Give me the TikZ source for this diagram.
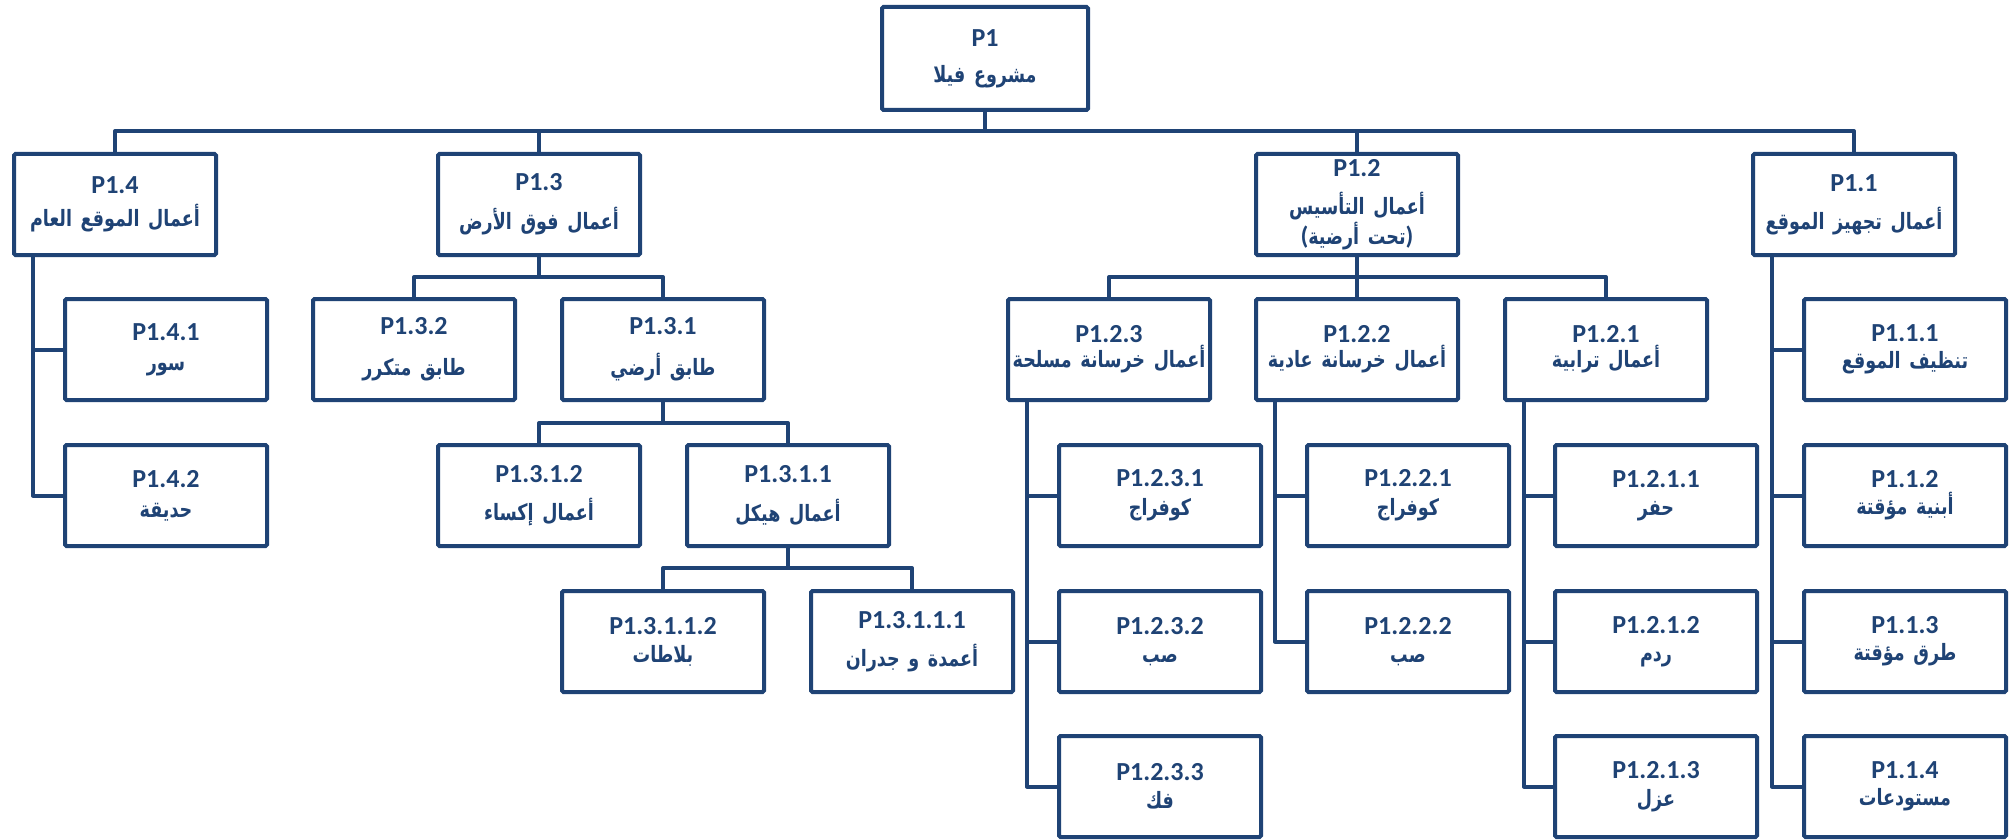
\documentclass[tikz,border=0pt]{standalone}
\usepackage{fontspec}
\setmainfont{Carlito}
\newfontfamily\arabicfont[Script=Arabic, FakeStretch=0.78]{DejaVu Sans}
\TeXXeTstate=1
\definecolor{wbs}{RGB}{31,67,117}
\newcommand{\ar}[1]{\makebox[198pt][c]{\arabicfont\bfseries\fontsize{22.5}{30}\selectfont\beginR #1\endR}}
\newcommand{\arp}[1]{\makebox[198pt][c]{{\bfseries\fontsize{25}{30}\selectfont(}{\arabicfont\bfseries\fontsize{22.5}{30}\selectfont\beginR #1\endR}{\bfseries\fontsize{25}{30}\selectfont)}}}
\newcommand{\pl}[1]{{\bfseries\fontsize{26}{30}\selectfont #1}}
\begin{document}
\begin{tikzpicture}[x=1pt,y=-1pt,
  wbox/.style={draw=wbs, line width=4pt, rounded corners=1.5pt, fill=white,
    minimum width=202pt, minimum height=101pt, text width=198pt, text=wbs, align=center,
    inner xsep=2pt, inner ysep=0pt, font=\fontsize{26}{30}\selectfont},
  link/.style={draw=wbs, line width=4pt, line join=round}]
\useasboundingbox (0,0) rectangle (2014,840);

% level 0
\node[wbox, minimum width=206pt, minimum height=103pt] (P1) at (985,58.5) {\pl{P1}\\[6pt]\ar{مشروع فيلا}};

% level 1
\node[wbox] (P14) at (115,204.5) {\pl{P1.4}\\[3pt]\ar{أعمال الموقع العام}};
\node[wbox] (P13) at (539,204.5) {\pl{P1.3}\\[9pt]\ar{أعمال فوق الأرض}};
\node[wbox] (P12) at (1357,204.5) {\pl{P1.2}\\[8pt]\ar{أعمال التأسيس}\\\arp{تحت أرضية}};
\node[wbox] (P11) at (1854,204.5) {\pl{P1.1}\\[8pt]\ar{أعمال تجهيز الموقع}};

% P1.4 branch
\node[wbox] (P141) at (166,349.5) {\pl{P1.4.1}\\[0pt]\ar{سور}};
\node[wbox] (P142) at (166,495.5) {\pl{P1.4.2}\\[0pt]\ar{حديقة}};

% P1.3 branch
\node[wbox] (P132) at (414,349.5) {\pl{P1.3.2}\\[11pt]\ar{طابق متكرر}};
\node[wbox] (P131) at (663,349.5) {\pl{P1.3.1}\\[11pt]\ar{طابق أرضي}};
\node[wbox] (P1312) at (539,495.5) {\pl{P1.3.1.2}\\[8pt]\ar{أعمال إكساء}};
\node[wbox] (P1311) at (788,495.5) {\pl{P1.3.1.1}\\[9pt]\ar{أعمال هيكل}};
\node[wbox] (P13112) at (663,641.5) {\pl{P1.3.1.1.2}\\[-2pt]\ar{بلاطات}};
\node[wbox] (P13111) at (912,641.5) {\pl{P1.3.1.1.1}\\[8pt]\ar{أعمدة و جدران}};

% P1.2 branch
\node[wbox] (P123) at (1109,349.5) {\pl{P1.2.3}\\[-5pt]\ar{أعمال خرسانة مسلحة}};
\node[wbox] (P122) at (1357,349.5) {\pl{P1.2.2}\\[-5pt]\ar{أعمال خرسانة عادية}};
\node[wbox] (P121) at (1606,349.5) {\pl{P1.2.1}\\[-5pt]\ar{أعمال ترابية}};
\node[wbox] (P1231) at (1160,495.5) {\pl{P1.2.3.1}\\[-1pt]\ar{كوفراج}};
\node[wbox] (P1232) at (1160,641.5) {\pl{P1.2.3.2}\\[-2pt]\ar{صب}};
\node[wbox] (P1233) at (1160,786.5) {\pl{P1.2.3.3}\\[-2pt]\ar{فك}};
\node[wbox] (P1221) at (1408,495.5) {\pl{P1.2.2.1}\\[-1pt]\ar{كوفراج}};
\node[wbox] (P1222) at (1408,641.5) {\pl{P1.2.2.2}\\[-2pt]\ar{صب}};
\node[wbox] (P1211) at (1656,495.5) {\pl{P1.2.1.1}\\[-2pt]\ar{حفر}};
\node[wbox] (P1212) at (1656,641.5) {\pl{P1.2.1.2}\\[-2pt]\ar{ردم}};
\node[wbox] (P1213) at (1656,786.5) {\pl{P1.2.1.3}\\[-2pt]\ar{عزل}};

% P1.1 branch
\node[wbox] (P111) at (1905,349.5) {\pl{P1.1.1}\\[-3pt]\ar{تنظيف الموقع}};
\node[wbox] (P112) at (1905,495.5) {\pl{P1.1.2}\\[-3pt]\ar{أبنية مؤقتة}};
\node[wbox] (P113) at (1905,641.5) {\pl{P1.1.3}\\[-3pt]\ar{طرق مؤقتة}};
\node[wbox] (P114) at (1905,786.5) {\pl{P1.1.4}\\[-3pt]\ar{مستودعات}};

% bus levels
\coordinate (bus0) at (0,131);
\coordinate (bus1) at (0,277);
\coordinate (bus2) at (0,423);
\coordinate (bus3) at (0,568);

% level 0 -> 1
\draw[link] (P1.south) -- (P1.south |- bus0);
\draw[link] (P14.north) -- (P14.north |- bus0) -- (P11.north |- bus0) -- (P11.north);
\draw[link] (P13.north) -- (P13.north |- bus0);
\draw[link] (P12.north) -- (P12.north |- bus0);

% P1.4 list
\draw[link] ([xshift=-82pt]P14.south) |- (P141.west);
\draw[link] ([xshift=-82pt]P14.south) |- (P142.west);

% P1.3 tree
\draw[link] (P13.south) -- (P13.south |- bus1);
\draw[link] (P132.north) -- (P132.north |- bus1) -- (P131.north |- bus1) -- (P131.north);
\draw[link] (P131.south) -- (P131.south |- bus2);
\draw[link] (P1312.north) -- (P1312.north |- bus2) -- (P1311.north |- bus2) -- (P1311.north);
\draw[link] (P1311.south) -- (P1311.south |- bus3);
\draw[link] (P13112.north) -- (P13112.north |- bus3) -- (P13111.north |- bus3) -- (P13111.north);

% P1.2 tree
\draw[link] (P12.south) -- (P122.north);
\draw[link] (P123.north) -- (P123.north |- bus1) -- (P121.north |- bus1) -- (P121.north);
\draw[link] ([xshift=-82pt]P123.south) |- (P1231.west);
\draw[link] ([xshift=-82pt]P123.south) |- (P1232.west);
\draw[link] ([xshift=-82pt]P123.south) |- (P1233.west);
\draw[link] ([xshift=-82pt]P122.south) |- (P1221.west);
\draw[link] ([xshift=-82pt]P122.south) |- (P1222.west);
\draw[link] ([xshift=-82pt]P121.south) |- (P1211.west);
\draw[link] ([xshift=-82pt]P121.south) |- (P1212.west);
\draw[link] ([xshift=-82pt]P121.south) |- (P1213.west);

% P1.1 list
\draw[link] ([xshift=-82pt]P11.south) |- (P111.west);
\draw[link] ([xshift=-82pt]P11.south) |- (P112.west);
\draw[link] ([xshift=-82pt]P11.south) |- (P113.west);
\draw[link] ([xshift=-82pt]P11.south) |- (P114.west);
\end{tikzpicture}
\end{document}
